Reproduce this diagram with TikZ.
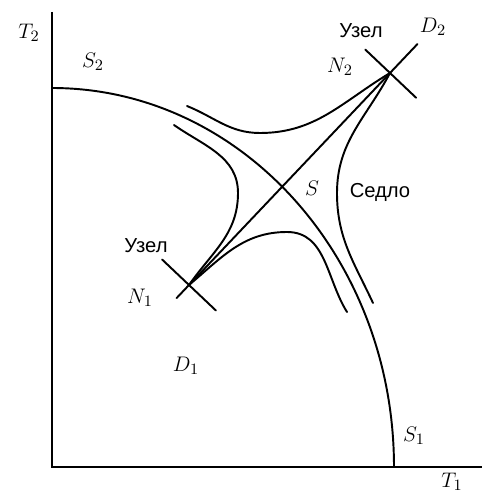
\documentclass[tikz,border=0pt]{standalone}
\usepackage{fontspec}
\newfontfamily\rusfont{Liberation Sans}
\usetikzlibrary{calc,positioning}
\tikzset{
  %% phase curves
  trj/.style={line width=1.1pt,line cap=round},
  %% axes
  axs/.style={line width=1.4pt},
  %% math labels
  mlbl/.style={font=\fontsize{13}{15}\selectfont,inner sep=1pt},
  %% russian text labels
  rlbl/.style={font=\rusfont\fontsize{11.5}{13}\selectfont,inner sep=1pt},
}
\begin{document}
\begin{tikzpicture}
  \useasboundingbox[fill=white] (-1.04,-0.58) rectangle (8.64,9.34);
  %% axes
  \coordinate (O)   at (0,0);
  \coordinate (top) at (0,9.10);
  \coordinate (rgt) at (8.60,0);
  \draw[axs] (top) -- (O) -- (rgt);
  \node[mlbl] (T2) at (-0.46,8.68) {$T_2$};
  \node[mlbl] (T1) at (8.00,-0.30) {$T_1$};

  %% separatrix S2 -- S1
  \draw[trj] (0,7.58) arc[start angle=90,end angle=0,x radius=6.84,y radius=7.58];
  \node[mlbl] (S2) at (0.82,8.10) {$S_2$};
  \node[mlbl] (S1) at (7.24,0.62) {$S_1$};

  %% nodes and saddle
  \coordinate (N1) at (2.74,3.64);
  \coordinate (N2) at (6.76,7.88);
  \draw[trj] ($(N1)!-0.36cm!(N2)$) -- ($(N2)!-0.80cm!(N1)$);
  \draw[trj] ($(N1)!0.74cm!90:(N2)$) -- ($(N1)!0.74cm!-90:(N2)$);
  \draw[trj] ($(N2)!0.72cm!90:(N1)$) -- ($(N2)!0.68cm!-90:(N1)$);

  %% trajectories round the saddle
  \draw[trj] (2.70,7.22) to[out=-22,in=180] (4.16,6.68) to[out=0,in=211] (N2);
  \draw[trj] (2.44,6.84) to[out=-35,in=90] (3.72,5.48) to[out=-90,in=55] (N1);
  \draw[trj] (N2) to[out=242,in=90] (5.70,5.48) to[out=-90,in=115] (6.42,3.28);
  \draw[trj] (N1) to[out=40,in=180] (4.70,4.70) to[out=0,in=122] (5.90,3.10);

  %% labels
  \node[mlbl] (lN1) at (1.76,3.38) {$N_1$};
  \node[mlbl] (lN2) at (5.76,8.00) {$N_2$};
  \node[mlbl] (D1)  at (2.68,2.02) {$D_1$};
  \node[mlbl] (D2)  at (7.62,8.80) {$D_2$};
  \node[mlbl] (lS)  at (5.20,5.58) {$S$};
  \node[rlbl] (sad) at (6.56,5.50) {Седло};
  \node[rlbl] (nd1) at (1.88,4.42) {Узел};
  \node[rlbl] (nd2) at (6.18,8.72) {Узел};
\end{tikzpicture}
\end{document}
